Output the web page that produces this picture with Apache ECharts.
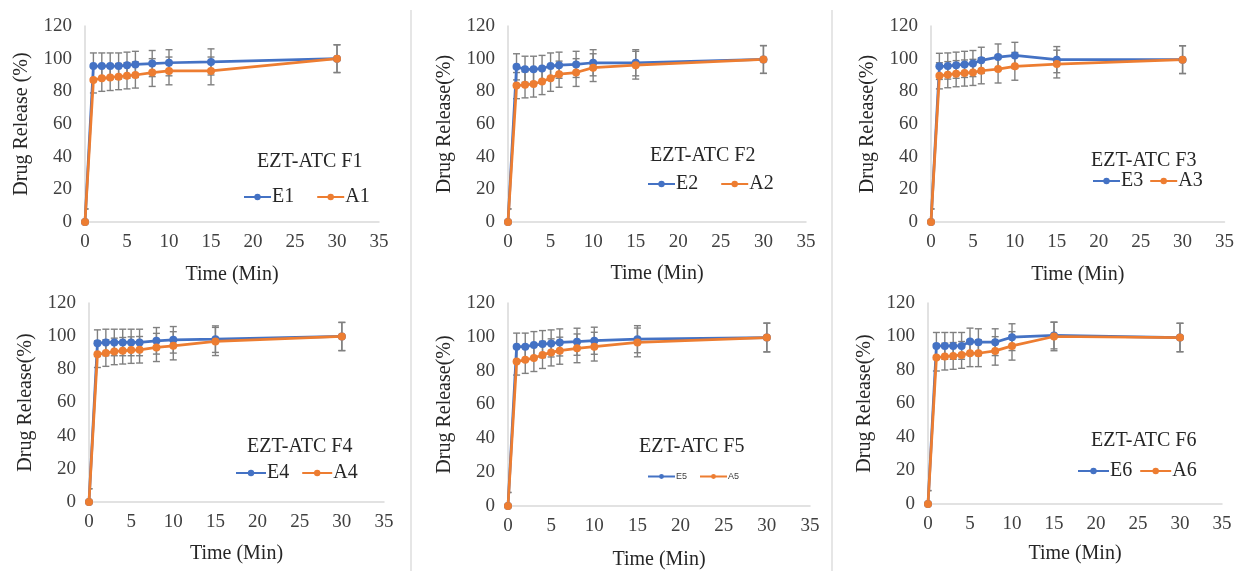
<!DOCTYPE html>
<html><head><meta charset="utf-8">
<script src="https://cdn.jsdelivr.net/npm/echarts@6/dist/echarts.min.js"></script>
<style>html,body{margin:0;padding:0;background:#fff}#c{width:1237px;height:571px}</style>
</head><body><div id="c"></div>
<script>
// ---------- data ----------
const time = [0, 1, 2, 3, 4, 5, 6, 8, 10, 15, 30];
const xTickValues = [0, 5, 10, 15, 20, 25, 30, 35];
const yTickValues = [0, 20, 40, 60, 80, 100, 120];

const E1 = [0, 95.5, 95.5, 95.5, 95.5, 96, 96.5, 97, 97.5, 98, 100];
const A1 = [0, 87, 88, 88.5, 89, 89.5, 90, 91.5, 92.5, 92.5, 100];
const E2 = [0, 95, 93.5, 93.5, 94, 95.5, 96, 96.5, 97.5, 97.5, 99.5];
const A2 = [0, 83.5, 84, 84.5, 86, 88, 90.5, 91.5, 94.5, 96, 99.5];
const E3 = [0, 95.3, 95.5, 96, 96.5, 97, 99, 101, 102, 99.4, 99.4];
const A3 = [0, 89.5, 90.2, 90.8, 91.2, 91.6, 92.6, 93.6, 95.3, 96.7, 99.4];
const E4 = [0, 95.8, 96.2, 96.2, 96.2, 96.2, 96.2, 97.2, 97.8, 98.2, 99.8];
const A4 = [0, 89.1, 89.8, 90.8, 91.2, 91.6, 91.8, 93.2, 94.2, 96.8, 99.8];
const E5 = [0, 94.2, 94.2, 95.1, 95.7, 96.1, 96.7, 97.1, 97.7, 98.6, 99.6];
const A5 = [0, 85.4, 86.4, 87.5, 89.3, 90.8, 91.8, 93.2, 94.2, 96.7, 99.6];
const E6 = [0, 94.4, 94.4, 94.4, 94.4, 97, 96.6, 96.6, 99.6, 100.6, 99.4];
const A6 = [0, 87.4, 88, 88.4, 89, 90, 90, 91.4, 94.4, 100, 99.4];

const errE = [8, 8, 8, 8, 8, 8, 8, 8, 8, 8, 8.5];
const errA = [8, 8, 8, 8, 8, 8, 8, 8.5, 8.5, 8.5, 8.5];

const eNames = ['E1', 'E2', 'E3', 'E4', 'E5', 'E6'];
const aNames = ['A1', 'A2', 'A3', 'A4', 'A5', 'A6'];
const panelTitles = ['EZT-ATC F1', 'EZT-ATC F2', 'EZT-ATC F3', 'EZT-ATC F4', 'EZT-ATC F5', 'EZT-ATC F6'];
const yTitles = ['Drug Release (%)', 'Drug Release(%)', 'Drug Release(%)', 'Drug Release(%)', 'Drug Release(%)', 'Drug Release(%)'];
const xTitle = 'Time (Min)';
const eSeries = [E1, E2, E3, E4, E5, E6];
const aSeries = [A1, A2, A3, A4, A5, A6];

// ---------- layout ----------
const grids = [
  {left: 85, top: 26, width: 294, height: 196},
  {left: 508, top: 26, width: 298, height: 196},
  {left: 931, top: 26, width: 294, height: 196},
  {left: 89, top: 303, width: 295, height: 199},
  {left: 508, top: 303, width: 302, height: 207},
  {left: 928, top: 303, width: 294, height: 201}
];
const xNameGaps = [43, 42, 43, 42, 44, 40];
const titlePos = [[257, 163], [650, 157], [1091, 162], [247, 448], [639, 448], [1091, 442]];
const legendPos = [[243, 198], [647, 185], [1092, 182], [235, 474], [647, 478], [1077, 472]];
const legendItemW = [27, 27, 27, 30, 27, 31];
const legendGap = [22, 22, 6, 12, 12, 7];

const BLUE = '#4472C4', ORANGE = '#ED7D31';
const SERIF = '"Liberation Serif","Times New Roman",serif';
const TXT = '#404040';

function errSeries(name, vals, errs, idx) {
  return {
    type: 'custom', name: name, xAxisIndex: idx, yAxisIndex: idx, clip: true, z: 1, silent: true,
    data: time.map((t, i) => [t, vals[i] - errs[i], vals[i] + errs[i]]),
    encode: {x: 0, y: [1, 2]},
    renderItem: function (params, api) {
      const lo = api.coord([api.value(0), api.value(1)]);
      const hi = api.coord([api.value(0), api.value(2)]);
      const w = 3.5;
      const style = {stroke: '#808080', lineWidth: 1.4, fill: null};
      return {type: 'group', children: [
        {type: 'line', shape: {x1: lo[0], y1: lo[1], x2: hi[0], y2: hi[1]}, style: style},
        {type: 'line', shape: {x1: lo[0] - w, y1: lo[1], x2: lo[0] + w, y2: lo[1]}, style: style},
        {type: 'line', shape: {x1: hi[0] - w, y1: hi[1], x2: hi[0] + w, y2: hi[1]}, style: style}
      ]};
    }
  };
}
function lineSeries(name, vals, idx, color) {
  return {
    type: 'line', name: name, xAxisIndex: idx, yAxisIndex: idx, z: 3,
    data: time.map((t, i) => [t, vals[i]]),
    symbol: 'circle', symbolSize: 8, showSymbol: true,
    itemStyle: {color: color},
    lineStyle: {color: color, width: 2.75}
  };
}

const option = {
  animation: false,
  backgroundColor: '#fff',
  grid: [], xAxis: [], yAxis: [], series: [], legend: [], title: [],
  graphic: [
    {type: 'line', shape: {x1: 411, y1: 10, x2: 411, y2: 571}, style: {stroke: '#e6e6e6', lineWidth: 2}},
    {type: 'line', shape: {x1: 832, y1: 10, x2: 832, y2: 571}, style: {stroke: '#e6e6e6', lineWidth: 2}}
  ]
};

for (let p = 0; p < 6; p++) {
  option.grid.push(Object.assign({containLabel: false}, grids[p]));
  option.xAxis.push({
    type: 'value', gridIndex: p, min: 0, max: 35, interval: 5,
    name: xTitle, nameLocation: 'middle', nameGap: xNameGaps[p],
    nameTextStyle: {fontFamily: SERIF, fontSize: 20, color: '#262626'},
    axisLine: {show: true, lineStyle: {color: '#d9d9d9', width: 1.5}},
    axisTick: {show: false}, splitLine: {show: false},
    axisLabel: {fontFamily: SERIF, fontSize: 19, color: TXT, margin: 11,
      formatter: v => xTickValues.indexOf(v) >= 0 ? String(v) : ''}
  });
  option.yAxis.push({
    type: 'value', gridIndex: p, min: 0, max: 120, interval: 20,
    name: yTitles[p], nameLocation: 'middle', nameGap: 53,
    nameTextStyle: {fontFamily: SERIF, fontSize: 20, color: '#262626'},
    axisLine: {show: true, lineStyle: {color: '#d9d9d9', width: 1.5}},
    axisTick: {show: false}, splitLine: {show: false},
    axisLabel: {fontFamily: SERIF, fontSize: 19, color: TXT, margin: 13,
      formatter: v => yTickValues.indexOf(v) >= 0 ? String(v) : ''}
  });
  option.series.push(errSeries('errE' + (p + 1), eSeries[p], errE, p));
  option.series.push(errSeries('errA' + (p + 1), aSeries[p], errA, p));
  option.series.push(lineSeries(eNames[p], eSeries[p], p, BLUE));
  option.series.push(lineSeries(aNames[p], aSeries[p], p, ORANGE));

  option.title.push({
    text: panelTitles[p], left: titlePos[p][0], top: titlePos[p][1] - 11, padding: 0,
    textStyle: {fontFamily: SERIF, fontSize: 20, fontWeight: 'normal', color: '#262626'}
  });
  const small = (p === 4);
  option.legend.push({
    data: [eNames[p], aNames[p]], left: legendPos[p][0], top: legendPos[p][1] - (small ? 6 : 11), padding: 0,
    orient: 'horizontal', itemWidth: legendItemW[p], itemHeight: small ? 6 : 8, itemGap: legendGap[p],
    selectedMode: false,
    textStyle: small ? {fontFamily: '"Liberation Sans",Arial,sans-serif', fontSize: 9, color: TXT, padding: [0, 0, 0, -4]}
                     : {fontFamily: SERIF, fontSize: 20, color: '#262626', padding: [0, 0, 0, -4]}
  });
}

const chart = echarts.init(document.getElementById('c'), null, {renderer: 'canvas'});
chart.setOption(option);
</script>
</body></html>
